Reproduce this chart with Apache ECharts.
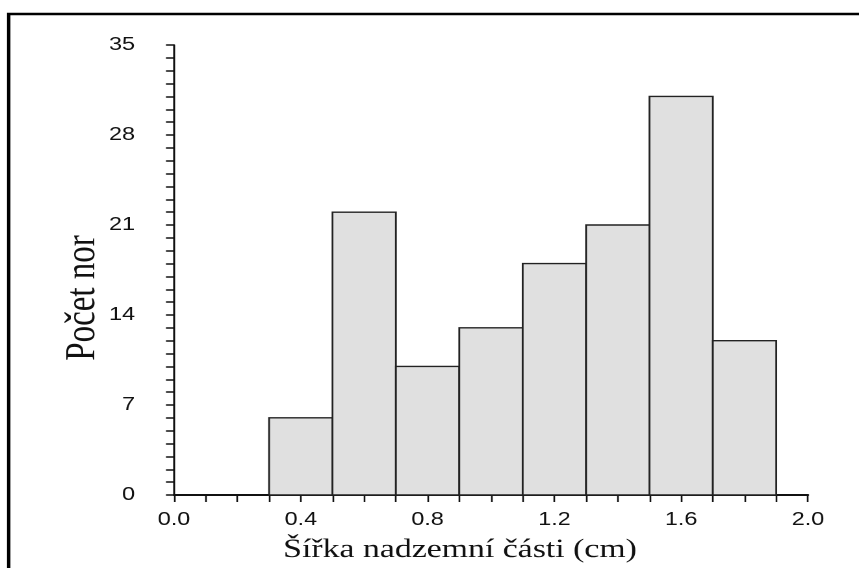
<!DOCTYPE html>
<html>
<head>
<meta charset="utf-8">
<script src="https://cdn.jsdelivr.net/npm/echarts@6/dist/echarts.min.js"></script>
<style>
html,body{margin:0;padding:0;background:#fff;overflow:hidden;width:859px;height:568px;}
#c{width:661px;height:568px;transform:scaleX(1.29955);transform-origin:0 0;}
</style>
</head>
<body>
<div id="c"></div>
<script>
// Histogram data
var binStart = [0.3, 0.5, 0.7, 0.9, 1.1, 1.3, 1.5, 1.7];
var binEnd   = [0.5, 0.7, 0.9, 1.1, 1.3, 1.5, 1.7, 1.9];
var counts   = [6, 22, 10, 13, 18, 21, 31, 12];
var xTitle = 'Šířka nadzemní části (cm)';
var yTitle = 'Počet nor';

var data = binStart.map(function (s, i) { return [s, binEnd[i], counts[i]]; });

var chart = echarts.init(document.getElementById('c'), null, {renderer: 'canvas', devicePixelRatio: 2});
var labelStyle = {fontFamily: 'Liberation Sans', fontSize: 18, color: '#111'};
chart.setOption({
  animation: false,
  backgroundColor: '#fff',
  grid: {left: 133.9, right: 39.3, top: 45, bottom: 73, containLabel: false},
  xAxis: {
    type: 'value', min: 0, max: 2, interval: 0.4,
    axisLine: {show: true, lineStyle: {color: '#111', width: 2}},
    axisTick: {show: true, length: 7, lineStyle: {color: '#111', width: 1.3}},
    minorTick: {show: true, splitNumber: 4, length: 7, lineStyle: {color: '#111', width: 1.3}},
    splitLine: {show: false},
    minorSplitLine: {show: false},
    axisLabel: Object.assign({margin: 16, formatter: function (v) { return v.toFixed(1); }}, labelStyle)
  },
  yAxis: {
    type: 'value', min: 0, max: 35, interval: 7,
    axisLine: {show: true, lineStyle: {color: '#111', width: 1.5}},
    axisTick: {show: true, length: 6.2, lineStyle: {color: '#111', width: 1.5}},
    minorTick: {show: true, splitNumber: 7, length: 6.2, lineStyle: {color: '#111', width: 1.5}},
    splitLine: {show: false},
    minorSplitLine: {show: false},
    axisLabel: Object.assign({margin: 30}, labelStyle)
  },
  series: [{
    type: 'custom',
    data: data,
    encode: {x: [0, 1], y: 2},
    renderItem: function (params, api) {
      var p0 = api.coord([api.value(0), api.value(2)]);
      var p1 = api.coord([api.value(1), 0]);
      return {
        type: 'rect',
        shape: {x: p0[0], y: p0[1], width: p1[0] - p0[0], height: p1[1] - p0[1]},
        style: {fill: '#e0e0e0', stroke: '#222', lineWidth: 1.4}
      };
    }
  }],
  graphic: [
    {type: 'rect', z: 100, shape: {x: 6.7, y: 14, width: 800, height: 800},
     style: {fill: 'none', stroke: '#000', lineWidth: 2.6}},
    {type: 'text', z: 100, x: 354, y: 563,
     style: {text: xTitle, fontFamily: 'Liberation Serif', fontSize: 26,
             fill: '#111', textAlign: 'center', textVerticalAlign: 'bottom'}},
    {type: 'text', z: 100, x: 64, y: 298, rotation: Math.PI / 2,
     style: {text: yTitle, fontFamily: 'Liberation Serif', fontSize: 33,
             fill: '#111', textAlign: 'center', textVerticalAlign: 'middle'}}
  ]
});
</script>
</body>
</html>
